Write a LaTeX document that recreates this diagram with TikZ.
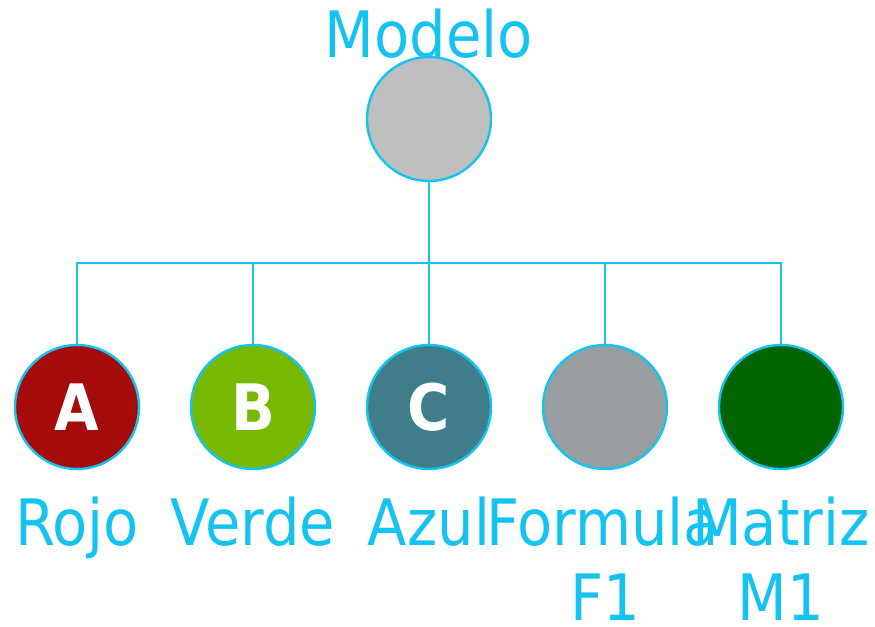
\documentclass[tikz,border=0pt]{standalone}
\usepackage{fontspec}
\setmainfont{DejaVu Sans Condensed}
\usepackage{tikz}

\definecolor{linecyan}{HTML}{14C3F0}
\definecolor{rojo}{HTML}{A50B0B}
\definecolor{verde}{HTML}{77B900}
\definecolor{azul}{HTML}{407D8A}
\definecolor{formula}{HTML}{989DA1}
\definecolor{matriz}{HTML}{006400}
\definecolor{modelo}{HTML}{BFBFBF}

\begin{document}
\begin{tikzpicture}[x=0.75pt,y=-0.75pt,
		ball/.style={circle,draw=linecyan,line width=1.8pt,minimum size=93pt,inner sep=0pt,
			text=white,font=\fontsize{48}{56}\selectfont\bfseries},
		tag/.style={text=linecyan,anchor=base,align=center,font=\fontsize{48}{56}\selectfont},
		link/.style={linecyan,line width=1.8pt}]
		\useasboundingbox (0,0) rectangle (875,627);
		\node[ball,fill=modelo] (modelo) at (429,119) {};
		\node[tag] (modelotxt) at (429,58) {Modelo};
		\node[ball,fill=rojo] (rojo) at (77,407) {A};
		\node[ball,fill=verde] (verde) at (253,407) {B};
		\node[ball,fill=azul] (azul) at (429,407) {C};
		\node[ball,fill=formula] (formula) at (605,407) {};
		\node[ball,fill=matriz] (matriz) at (781,407) {};
		\node[tag] (rojotxt) at (77,545) {Rojo};
		\node[tag] (verdetxt) at (253,545) {Verde};
		\node[tag] (azultxt) at (429,545) {Azul};
		\node[tag] (formulatxt) at (603,545) {Formula};
		\node[tag] (f1txt) at (605,620) {F1};
		\node[tag] (matriztxt) at (781,545) {Matriz};
		\node[tag] (m1txt) at (781,620) {M1};
		\coordinate (bus) at (429,263);
		\draw[link] (modelo) -- (azul);
		\draw[link] (rojo) |- (bus);
		\draw[link] (verde) |- (bus);
		\draw[link] (formula) |- (bus);
		\draw[link] (matriz) |- (bus);
	\end{tikzpicture}
\end{document}
